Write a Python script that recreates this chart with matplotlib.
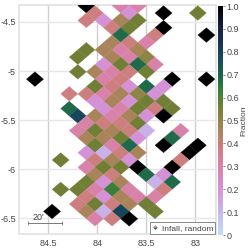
#!/usr/bin/env python3
"""Infall fraction map on a diamond sky grid"""

import matplotlib
matplotlib.use('Agg')
import matplotlib.pyplot as plt
from matplotlib.collections import PolyCollection
from matplotlib.colors import LinearSegmentedColormap, Normalize
from matplotlib.lines import Line2D

plt.rcParams['font.family'] = ['Liberation Sans', 'DejaVu Sans']

# Fraction levels seen in the map
K, T, G, V, O, M, B, R, P, H, L = 1.0, 0.78, 0.68, 0.63, 0.57, 0.5, 0.46, 0.38, 0.3, 0.21, 0.12

# Grid cells, one line per row of diamonds
cell_col = [6, 10, 12,
            7, 11, 15, 19,
            6, 8, 10, 12,
            9, 11, 15,
            10, 14, 20,
            9, 11, 13,
            6, 8, 10, 12,
            5, 9, 11, 13,
            8, 10, 12, 14,
            5, 7, 9, 11, 13,
            0, 8, 10, 16, 20,
            7, 9, 11, 13, 15,
            4, 6, 8, 10, 12, 14,
            7, 9, 11, 13, 15,
            4, 8, 10, 12, 14, 16,
            5, 7, 9, 11, 13, 15,
            6, 8, 10, 12,
            5, 7, 9, 11, 13, 17,
            6, 8, 10, 12, 16,
            7, 9, 11, 15, 19,
            6, 8, 10, 12, 18,
            3, 7, 9, 11, 17,
            6, 8, 10, 12, 16,
            7, 9, 13, 15,
            6, 8, 10, 14, 16,
            3, 5, 7, 9, 11, 15,
            6, 8, 10, 12, 14,
            5, 7, 9, 11, 13,
            2, 6, 8, 10, 14,
            7, 9, 11]
cell_row = [-10] * 3 + [-9] * 4 + [-8] * 4 + [-7] * 3 + [-6] * 3 + [-5] * 3 + [-4] * 4 + [-3] * 4 \
    + [-2] * 4 + [-1] * 5 + [0] * 5 + [1] * 5 + [2] * 6 + [3] * 5 + [4] * 6 + [5] * 6 + [6] * 4 \
    + [7] * 6 + [8] * 5 + [9] * 5 + [10] * 5 + [11] * 5 + [12] * 5 + [13] * 4 + [14] * 5 + [15] * 6 \
    + [16] * 5 + [17] * 5 + [18] * 5 + [19] * 3
cell_frac = [K, P, P,
             R, H, K, O,
             R, H, B, O,
             R, O, K,
             G, R, K,
             B, R, P,
             O, B, P, B,
             O, B, P, M,
             H, O, G, P,
             O, B, P, R, O,
             K, P, R, K, K,
             O, R, H, G, H,
             R, R, P, B, M, H,
             H, B, H, O, O,
             G, H, P, O, R, O,
             T, B, P, B, H, K,
             P, R, R, O,
             P, O, B, R, L, P,
             B, B, O, H, G,
             O, P, G, K, K,
             H, L, R, B, K,
             O, R, B, H, R,
             P, O, O, K, K,
             B, R, G, H,
             O, H, B, L, G,
             O, O, P, V, P, R,
             R, H, B, P, P,
             R, O, R, B, O,
             K, B, L, T, O,
             P, R, K]

# Grid geometry in degrees
ra_start, ra_step = 84.638, 0.0875
dec_start, dec_step = -5.082, 0.0748

x_ticks = [84.5, 84, 83.5, 83]
y_ticks = [-4.5, -5, -5.5, -6, -6.5]
cbar_ticks = [0, 0.1, 0.2, 0.3, 0.4, 0.5, 0.6, 0.7, 0.8, 0.9, 1]

cmap = LinearSegmentedColormap.from_list('fraction', [
    (0.0, '#c4dcf6'), (0.12, '#c8b0e8'), (0.21, '#d590d5'), (0.3, '#d882a8'),
    (0.38, '#cd7f7f'), (0.46, '#a8845a'), (0.5, '#8f8446'), (0.57, '#6f7f35'), (0.63, '#3a7f3a'),
    (0.68, '#1f6b4b'), (0.78, '#17465a'), (0.89, '#1c2548'), (1.0, '#000000')])
norm = Normalize(0, 1)

W = 249
fig = plt.figure(figsize=(2.49, 2.49), dpi=100, facecolor='white')
ax = fig.add_axes([18.5 / W, 1 - 233.5 / W, 197.5 / W, 228.5 / W])

polys = []
for c, r in zip(cell_col, cell_row):
    x = ra_start - c * ra_step
    y = dec_start - r * dec_step
    polys.append([(x - ra_step, y), (x, y + dec_step), (x + ra_step, y), (x, y - dec_step)])
cells = PolyCollection(polys, array=cell_frac, cmap=cmap, norm=norm,
                       edgecolors='face', linewidths=0.2, zorder=3)
ax.add_collection(cells)

ax.set_xlim(84.806, 82.79)
ax.set_ylim(-6.653, -4.327)
ax.set_xticks(x_ticks)
ax.set_xticklabels(['84.5', '84', '83.5', '83'])
ax.set_yticks(y_ticks)
ax.set_yticklabels(['-4.5', '-5', '-5.5', '-6', '-6.5'])
ax.tick_params(length=0, labelsize=6.5, labelcolor='#444444', pad=2)
ax.tick_params(axis='x', pad=4)
ax.grid(axis='x', color='#cfcfcf', lw=1, zorder=0)
ax.grid(axis='y', color='#e6e6e6', lw=1, zorder=0)
ax.set_axisbelow(True)
for s in ax.spines.values():
    s.set_color('#e2e2e2')
    s.set_linewidth(1.2)

# 20 arcmin scale bar
ax.plot([84.71, 84.36], [-6.55, -6.55], color='#666666', lw=0.6, marker='|', ms=2.5, mew=0.5, zorder=4)
ax.text(84.605, -6.54, "20'", fontsize=6.5, color='#444444', ha='center', va='bottom', zorder=4)

handle = Line2D([], [], ls='none', marker='D', ms=2.5, mew=0, fillstyle='top',
                markerfacecolor='#d882a8', markerfacecoloralt='#1f6b4b')
leg = ax.legend([handle], ['Infall, random'], loc='lower right', fontsize=6, frameon=True,
                fancybox=False, framealpha=1, edgecolor='#888888', borderpad=0.2,
                handlelength=0.8, handletextpad=0.4, borderaxespad=0.0,
                bbox_to_anchor=(0.995, 0.0), labelcolor='#444444')
leg.get_frame().set_linewidth(0.7)
leg.set_zorder(5)

cax = fig.add_axes([218 / W, 1 - 235 / W, 5 / W, 229 / W])
cb = fig.colorbar(plt.cm.ScalarMappable(norm=norm, cmap=cmap), cax=cax)
cb.set_ticks(cbar_ticks)
cb.set_ticklabels(['0', '0.1', '0.2', '0.3', '0.4', '0.5', '0.6', '0.7', '0.8', '0.9', '1.0'])
cb.ax.tick_params(length=1.5, width=0.5, labelsize=6.5, labelcolor='#444444', color='#555555', pad=1)
cb.outline.set_visible(False)
cb.set_label('Fraction', fontsize=6, color='#444444', labelpad=1)

plt.savefig('out.png', dpi=100, facecolor='white')
plt.close()
